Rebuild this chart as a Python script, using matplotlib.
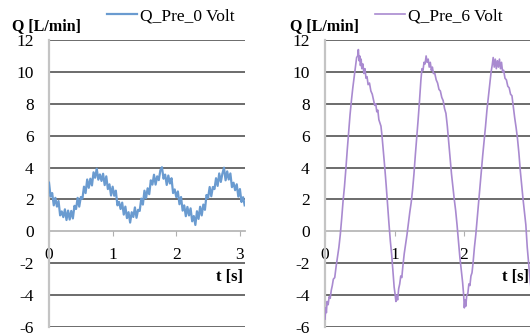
import numpy as np
import matplotlib
matplotlib.use("Agg")
import matplotlib.pyplot as plt

# ---------------- data ----------------
dt0 = 0.025
q0 = [3.05, 2.18, 2.40, 1.63, 2.10, 1.55, 1.90, 1.00, 1.25, 0.89,
      1.38, 0.71, 1.30, 0.74, 1.28, 0.81, 1.60, 1.40, 2.10, 1.55,
      2.15, 2.05, 2.80, 2.40, 3.25, 2.73, 3.30, 2.88, 3.70, 3.36,
      3.93, 3.24, 3.57, 3.16, 3.61, 2.90, 3.45, 2.65, 2.95, 2.25,
      2.80, 2.23, 2.55, 1.63, 1.85, 1.40, 1.80, 1.05, 1.55, 0.83,
      1.20, 0.55, 1.20, 0.90, 1.50, 0.85, 1.35, 1.28, 2.05, 1.68,
      2.55, 2.08, 2.70, 2.33, 3.20, 2.93, 3.55, 2.93, 3.45, 3.21,
      3.83, 4.02, 3.30, 3.56, 2.91, 3.50, 3.00, 3.33, 2.40, 2.63,
      2.15, 2.50, 1.70, 2.15, 1.30, 1.63, 0.95, 1.53, 1.00, 1.44,
      0.63, 0.96, 0.40, 1.26, 0.78, 1.54, 1.00, 1.68, 1.35, 2.28,
      2.10, 2.78, 2.20, 2.78, 2.65, 3.33, 2.85, 3.63, 3.10, 3.62,
      3.99, 3.20, 3.76, 3.25, 3.63, 2.77, 3.05, 2.58, 2.95, 2.18,
      2.65, 1.84, 2.14, 1.63]
t0 = np.arange(len(q0)) * dt0

t6 = [0.000, 0.010, 0.020, 0.030, 0.045, 0.060, 0.075, 0.090, 0.105, 0.120,
      0.140, 0.160, 0.180, 0.200, 0.220, 0.240, 0.260, 0.280, 0.300, 0.320,
      0.340, 0.360, 0.380, 0.400, 0.420, 0.440, 0.455, 0.470, 0.480, 0.490,
      0.500, 0.510, 0.520, 0.530, 0.545, 0.560, 0.575, 0.590, 0.605, 0.620,
      0.640, 0.660, 0.680, 0.700, 0.715, 0.730, 0.745, 0.760, 0.775, 0.790,
      0.805, 0.820, 0.840, 0.860, 0.880, 0.900, 0.920, 0.940, 0.960, 0.980,
      0.995, 1.010, 1.020, 1.030, 1.045, 1.060, 1.075, 1.090, 1.105, 1.120,
      1.140, 1.160, 1.180, 1.200, 1.220, 1.240, 1.260, 1.280, 1.300, 1.320,
      1.340, 1.360, 1.380, 1.395, 1.410, 1.425, 1.440, 1.455, 1.470, 1.485,
      1.500, 1.515, 1.530, 1.545, 1.560, 1.580, 1.600, 1.620, 1.640, 1.660,
      1.680, 1.700, 1.720, 1.740, 1.760, 1.780, 1.800, 1.820, 1.840, 1.860,
      1.880, 1.900, 1.920, 1.940, 1.960, 1.980, 1.995, 2.005, 2.015, 2.025,
      2.040, 2.055, 2.070, 2.085, 2.100, 2.115, 2.130, 2.150, 2.170, 2.190,
      2.210, 2.230, 2.250, 2.270, 2.290, 2.310, 2.330, 2.350, 2.370, 2.390,
      2.405, 2.420, 2.435, 2.450, 2.465, 2.480, 2.495, 2.510, 2.525, 2.540,
      2.555, 2.570, 2.590, 2.610, 2.630, 2.650, 2.670, 2.690, 2.710, 2.730,
      2.750, 2.770, 2.790, 2.810, 2.830, 2.850, 2.870, 2.890, 2.910, 2.930,
      2.950, 2.970, 2.990, 3.010]
q6 = [-5.5, -4.8, -5.1, -4.4, -4.6, -4.1, -4.2, -3.7, -3.4, -3.0,
      -2.9, -2.2, -1.6, -1.0, -0.2, 0.8, 1.9, 2.8, 3.9, 5.1,
      6.2, 7.3, 8.2, 9.0, 9.7, 10.4, 10.9, 11.0, 11.4, 10.7,
      11.0, 10.4, 10.8, 10.2, 10.5, 9.9, 10.2, 9.6, 9.7, 9.2,
      9.3, 8.8, 8.6, 8.2, 7.9, 8.0, 7.5, 7.6, 7.0, 6.8,
      6.6, 6.0, 5.0, 4.0, 2.9, 1.7, 0.5, -0.6, -1.5, -2.6,
      -3.5, -4.0, -4.4, -4.0, -4.3, -3.6, -3.3, -2.8, -2.9, -2.2,
      -1.4, -0.8, -0.2, 0.5, 1.2, 1.8, 2.6, 3.6, 4.8, 5.9,
      7.0, 8.2, 9.5, 10.2, 10.1, 10.6, 10.5, 11.0, 10.6, 10.8,
      10.3, 10.6, 10.1, 10.3, 9.9, 9.9, 9.5, 9.3, 8.9, 8.8,
      8.4, 8.2, 7.7, 7.4, 6.6, 5.6, 4.6, 3.6, 2.8, 2.0,
      1.3, 0.4, -0.6, -1.6, -2.4, -3.2, -4.0, -4.8, -4.3, -4.7,
      -4.0, -3.9, -3.3, -3.4, -2.8, -2.6, -2.0, -1.0, -0.2, 0.8,
      1.8, 2.8, 3.8, 4.8, 5.7, 6.6, 7.6, 8.4, 9.2, 10.0,
      10.4, 10.9, 10.3, 10.8, 10.2, 10.7, 10.3, 10.8, 10.2, 10.6,
      10.0, 10.1, 9.6, 9.5, 9.1, 9.0, 8.6, 8.5, 7.8, 7.1,
      6.5, 5.8, 4.9, 3.8, 2.9, 2.0, 1.2, 0.4, -1.0, -2.0,
      -3.0, -3.8, -4.3, -4.6]

y_ticks = [-6, -4, -2, 0, 2, 4, 6, 8, 10, 12]
x_ticks = [0, 1, 2, 3]
labels = ["Q_Pre_0 Volt", "Q_Pre_6 Volt"]
colors = ["#6a9bd0", "#a98ad0"]

# ---------------- fonts ----------------
SERIF = "Liberation Serif"
plt.rcParams["font.family"] = [SERIF, "DejaVu Serif"]

# ---------------- figure ----------------
W, H = 530, 335
fig = plt.figure(figsize=(W / 100, H / 100), dpi=100)


def px_axes(x0, x1, y_top, y_bot):
    return [x0 / W, 1 - y_bot / H, (x1 - x0) / W, (y_bot - y_top) / H]


def style(ax, xmax):
    ax.set_ylim(-6, 12)
    ax.set_xlim(0, xmax)
    ax.set_yticks(y_ticks)
    ax.set_yticklabels([str(v) for v in y_ticks], fontfamily=SERIF)
    ax.set_xticks(x_ticks)
    ax.set_xticklabels([str(v) for v in x_ticks], fontfamily=SERIF)
    for v in y_ticks:
        if v != 0:
            ax.axhline(v, color="#606060", lw=1.3, zorder=1)
    ax.spines["top"].set_visible(False)
    ax.spines["right"].set_visible(False)
    ax.spines["left"].set_color("#c4c4c4")
    ax.spines["left"].set_linewidth(1.6)
    ax.spines["bottom"].set_position(("data", 0))
    ax.spines["bottom"].set_color("#b8b8b8")
    ax.spines["bottom"].set_linewidth(1.3)
    ax.spines["bottom"].set_zorder(1.5)
    ax.tick_params(axis="y", length=0, pad=11, labelsize=12.5)
    ax.tick_params(axis="x", length=3.5, width=0.8, color="#b0b0b0",
                   direction="out", pad=8, labelsize=12.5)
    ax.patch.set_alpha(0)


# left panel
axL = fig.add_axes(px_axes(49, 245, 40, 327))
style(axL, 3.08)
lnL, = axL.plot(t0, q0, color=colors[0], lw=1.6, zorder=3, label=labels[0])

# right panel
axR = fig.add_axes(px_axes(325, 325 + 3.1 * 69.5, 40, 327))
style(axR, 3.1)
lnR, = axR.plot(t6, q6, color=colors[1], lw=1.2, zorder=3, label=labels[1])

# legends
for ln, x in ((lnL, 107), (lnR, 375)):
    fig.legend(handles=[ln], loc="center left",
               bbox_to_anchor=(x / W, 1 - 16 / H), frameon=False,
               prop={"family": SERIF, "size": 12.5}, handlelength=1.7,
               handletextpad=0.2, borderpad=0, borderaxespad=0)

# axis titles
for x in (12, 290):
    fig.text(x / W, 1 - 26 / H, "Q [L/min]", fontfamily=SERIF,
             fontweight="bold", fontsize=11.5, ha="left", va="center")
for x in (243, 529):
    fig.text(x / W, 1 - 277 / H, "t [s]", fontfamily=SERIF,
             fontweight="bold", fontsize=12, ha="right", va="center")

fig.savefig("out.png", dpi=100)
